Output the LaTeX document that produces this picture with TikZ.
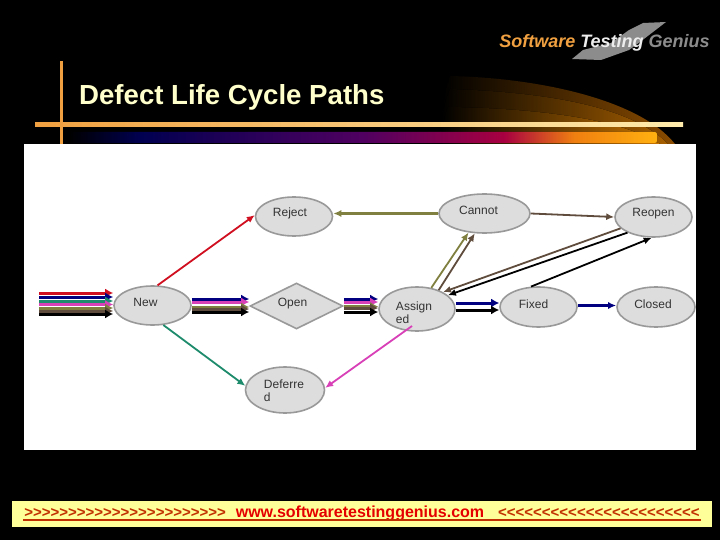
\documentclass[tikz,border=0pt]{standalone}
\usepackage{fontspec}
\setmainfont{Liberation Sans}
\usetikzlibrary{positioning,arrows.meta,calc,shapes.geometric}
\definecolor{nodefill}{HTML}{DDDDDD}
\definecolor{nodeline}{HTML}{999999}
\definecolor{arrred}{HTML}{D01020}
\definecolor{arrnavy}{HTML}{000080}
\definecolor{arrteal}{HTML}{1E8C6C}
\definecolor{arrpink}{HTML}{D840B8}
\definecolor{arrolive}{HTML}{808040}
\definecolor{arrbrown}{HTML}{604C3C}
\definecolor{titleyellow}{HTML}{FFFFCC}
\definecolor{footyellow}{HTML}{FFFF99}
\definecolor{footred}{HTML}{C03000}
\definecolor{rulestart}{HTML}{F0A040}
\definecolor{bandnavy}{HTML}{000050}
\definecolor{bandpurple}{HTML}{500060}
\definecolor{bandcrimson}{HTML}{A80040}
\definecolor{bandorange}{HTML}{F08010}
\definecolor{bandgold}{HTML}{FFB010}
\definecolor{glowa}{HTML}{8A4C00}
\definecolor{glowb}{HTML}{A86000}
\definecolor{glowc}{HTML}{C87400}
\pgfdeclarehorizontalshading{bandshade}{100bp}{color(0bp)=(black); color(25bp)=(black);
  color(31bp)=(bandnavy); color(50bp)=(bandpurple); color(62bp)=(bandcrimson);
  color(68bp)=(bandorange); color(75bp)=(bandgold); color(100bp)=(bandgold)}
\begin{document}
\begin{tikzpicture}[
  x=1pt,y=-1pt,
  >={Latex[length=8pt,width=7pt]},
  base/.style={draw=nodeline,line width=1.6pt,fill=nodefill,inner sep=0pt},
  state/.style={base,ellipse},
  statelab/.style={font=\fontsize{12}{13}\selectfont,text=black!80,align=left,inner sep=0pt},
  flow/.style={->,line width=1.8pt},
  levelflow/.style={->,line width=2.3pt},
  bus/.style={-{Latex[length=8pt,width=9pt]},line width=3pt},
  panel/.style={draw=none,inner sep=0pt,anchor=north west},
]
\useasboundingbox (0,0) rectangle (720,540);
\fill[black] (0,0) rectangle (720,540);
% glow behind the title rule
\fill[left color=black,right color=glowa] (441,144) .. controls (441,110) and (445,90) .. (450,76)
  .. controls (540,78) and (640,100) .. (675,144) -- cycle;
\fill[left color=black,right color=glowb] (441,144) .. controls (441,115) and (445,100) .. (450,89)
  .. controls (540,92) and (630,105) .. (668,144) -- cycle;
\fill[left color=black,right color=glowc] (441,144) .. controls (442,125) and (445,115) .. (448,107)
  .. controls (530,108) and (620,118) .. (660,144) -- cycle;
\fill[shading=bandshade,rounded corners=2pt] (69,132) rectangle (657,143);
\fill[left color=rulestart,right color=titleyellow!85!orange] (35,123) rectangle (683,127);
\fill[rulestart] (60,61) rectangle (62.5,144);
% logo
\fill[black!45] (643,23) -- (666,22) -- (640,42) -- (629,50) -- (601,60) -- (572,59) -- (583,50) -- (611,43) -- (629,30) -- cycle;
\node[font=\fontsize{18}{19}\selectfont\bfseries\itshape,inner sep=0pt] (logo) at (604.5,43)
  {\textcolor{rulestart}{Software} \textcolor{black!7}{Testing} \textcolor{black!45}{Genius}};
% title
\node[font=\fontsize{27.6}{29}\selectfont\bfseries,text=titleyellow,inner sep=0pt,anchor=west] (title) at (79,97) {Defect Life Cycle Paths};
% white panel and footer
\node[panel,fill=white,minimum width=672,minimum height=306] (board) at (24,144) {};
\node[panel,fill=footyellow,minimum width=700,minimum height=26] (footer) at (12,501) {};
\node[font=\fontsize{15}{16}\selectfont\bfseries,inner sep=0pt] (footertxt) at (362,513.5)
  {\textcolor{footred}{>{}>{}>{}>{}>{}>{}>{}>{}>{}>{}>{}>{}>{}>{}>{}>{}>{}>{}>{}>{}>{}>{}>}\hspace{10pt}\textcolor{red!90!black}{\fontsize{16}{17}\selectfont www.softwaretestinggenius.com}\hspace{14pt}\textcolor{footred}{<{}<{}<{}<{}<{}<{}<{}<{}<{}<{}<{}<{}<{}<{}<{}<{}<{}<{}<{}<{}<{}<{}<}};
\draw[footred,line width=2pt] ([xshift=11pt,yshift=7pt]footer.south west) -- ([xshift=-11pt,yshift=7pt]footer.south east);
% states
\node[state,minimum width=77,minimum height=39,label={[statelab,xshift=-7pt,yshift=3pt]center:New}] (new) at (152.5,305.5) {};
\node[base,diamond,minimum width=93,minimum height=46,label={[statelab,xshift=-4pt,yshift=2pt]center:Open}] (open) at (296.5,306) {};
\node[state,minimum width=76,minimum height=44,label={[statelab,xshift=-3pt,yshift=-4pt]center:{Assign\\ed}}] (assigned) at (417,309) {};
\node[state,minimum width=79,minimum height=46,label={[statelab,xshift=-1pt,yshift=-1pt]center:{Deferre\\d}}] (deferred) at (285,390) {};
\node[state,minimum width=77,minimum height=39,label={[statelab,xshift=-4pt,yshift=3pt]center:Reject}] (reject) at (294,216.5) {};
\node[state,minimum width=91,minimum height=39,label={[statelab,xshift=-6pt,yshift=3pt]center:Cannot}] (cannot) at (484.5,213.5) {};
\node[state,minimum width=77,minimum height=40,label={[statelab,yshift=3pt]center:Reopen}] (reopen) at (653.5,217) {};
\node[state,minimum width=77,minimum height=40,label={[statelab,xshift=-5pt,yshift=3pt]center:Fixed}] (fixed) at (538.5,307) {};
\node[state,minimum width=78,minimum height=40,label={[statelab,xshift=-3pt,yshift=3pt]center:Closed}] (closed) at (656,307) {};
% stack of paths coming in
\coordinate (entry) at (39,305.5);
\foreach \col/\dy in {arrred/12.5,arrnavy/8.5,arrteal/4.5,arrpink/1,arrolive/-2.5,arrbrown/-5.5,black/-8.5}
  \draw[bus,\col] ([yshift=\dy pt]entry) -- ([yshift=\dy pt]new.west);
% New to Open, Open to Assigned
\foreach \col/\dy in {arrnavy/6.5,arrpink/3.5,arrolive/-1.5,arrbrown/-3.5,black/-6.5}
  \draw[bus,\col] ([yshift=\dy pt]new.east) -- ([yshift=\dy pt]new.east -| open.west);
\foreach \col/\dy in {arrnavy/7,arrpink/4,arrolive/-.5,arrbrown/-2,black/-6}
  \draw[bus,\col] ([yshift=\dy pt]open.east) -- ([yshift=\dy pt]open.east -| assigned.west);
\draw[bus,arrnavy] ([yshift=4pt]fixed.west -| assigned.east) -- ([yshift=4pt]fixed.west);
\draw[bus,black] ([yshift=-3pt]fixed.west -| assigned.east) -- ([yshift=-3pt]fixed.west);
\draw[levelflow,arrnavy] ([yshift=1.5pt]fixed.east) -- ([yshift=1.5pt]fixed.east -| closed.west);
% single paths
\draw[flow,arrred] (new.76) -- (reject.178);
\draw[flow,arrteal] (new.-61) -- (deferred.174);
\draw[flow,arrpink] ($(assigned.center)+(-5,17)$) -- (deferred.3);
\draw[levelflow,arrolive] (cannot.west) -- (cannot.west -| reject.east);
\draw[flow,arrbrown] (cannot.east) -- (reopen.west);
\draw[flow,arrolive] (assigned.56) -- (cannot.230);
\draw[flow,arrbrown] (assigned.41) -- (cannot.244);
\draw[flow,arrbrown] (reopen.199) -- (assigned.33);
\draw[flow,black] (reopen.211) -- (assigned.24);
\draw[flow,black] (fixed.110) -- (reopen.265);
\end{tikzpicture}
\end{document}
